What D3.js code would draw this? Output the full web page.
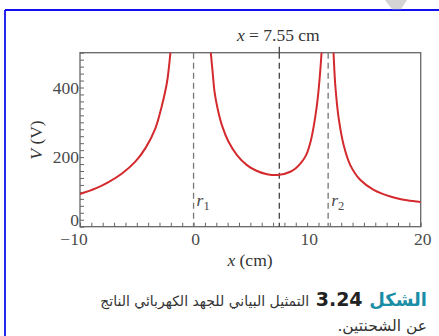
<!DOCTYPE html>
<html>
<head>
<meta charset="utf-8">
<script src="https://cdn.jsdelivr.net/npm/d3@7/dist/d3.min.js"></script>
<style>
  html, body { margin: 0; padding: 0; background: #fff; }
  svg { display: block; }
</style>
</head>
<body>
<svg id="chart" width="439" height="336"></svg>
<script>
// Potential along the x axis for two point charges (V in volts, x in cm)
const leftX  = [-10, -8.62, -7.45, -6.30, -5.13, -4.25, -3.37, -2.78, -2.34, -2.05, -1.95];
const leftV  = [94, 110, 129, 153, 187, 225, 282, 349, 415, 496, 530];

const midX = [1.45, 1.53, 1.68, 1.85, 2.12, 2.5, 3.08, 3.82, 4.7, 5.58, 6.47, 7.55, 8.52, 9.0, 9.4, 9.9, 10.33, 10.7, 10.95, 11.15, 11.3];
const midV = [530, 496, 444, 387, 339, 291, 244, 206, 177, 160, 151, 149, 158, 168, 181, 205, 248, 312, 374, 446, 515];

const rightX = [12.28, 12.33, 12.48, 12.78, 13.22, 13.8, 14.69, 15.86, 17.33, 18.8, 20];
const rightV = [530, 496, 406, 311, 234, 177, 134, 106, 87, 76, 71];

const xTickLabels = [-10, 0, 10, 20];
const yTickLabels = [0, 200, 400];
const chargePositions = [0, 11.85];
const chargeNames = ["1", "2"];
const minimumX = 7.55;

const svg = d3.select("#chart");

// page frame
svg.append("line").attr("x1", 5).attr("y1", 10).attr("x2", 439).attr("y2", 10)
  .attr("stroke", "#1010f0").attr("stroke-width", 1.8);
svg.append("line").attr("x1", 5).attr("y1", 10).attr("x2", 5).attr("y2", 336)
  .attr("stroke", "#1010f0").attr("stroke-width", 1.8);
svg.append("path").attr("d", "M385,0 L407,0 L401,9.2 L392,9.2 Z").attr("fill", "#d4d4d4");

const x = d3.scaleLinear().domain([-10, 20]).range([80, 420.7]);
const y = d3.scaleLinear().domain([0, 500]).range([226.7, 52.7]);

const axisColor = "#666";
const labelColor = "#4a4a4a";
const serif = "'Liberation Serif', 'DejaVu Serif', serif";
const fs = 17.5;

svg.append("defs").append("clipPath").attr("id", "plotClip")
  .append("rect").attr("x", x(-10)).attr("y", y(500))
  .attr("width", x(20) - x(-10)).attr("height", y(0) - y(500));

// x-axis minor ticks (inward)
const xAxis = d3.axisBottom(x).tickValues(d3.range(-10, 21, 1)).tickSize(-4).tickFormat("");
const gx = svg.append("g").attr("transform", `translate(0,${y(0)})`).call(xAxis);
gx.select(".domain").remove();
gx.selectAll("line").attr("stroke", axisColor).attr("stroke-width", 1);

// y-axis minor ticks (inward)
const yAxis = d3.axisLeft(y).tickValues(d3.range(0, 501, 20)).tickSize(-4).tickFormat("");
const gy = svg.append("g").attr("transform", `translate(${x(-10)},0)`).call(yAxis);
gy.select(".domain").remove();
gy.selectAll("line").attr("stroke", axisColor).attr("stroke-width", 1);

// plot frame
svg.append("rect").attr("x", x(-10)).attr("y", y(500))
  .attr("width", x(20) - x(-10)).attr("height", y(0) - y(500))
  .attr("fill", "none").attr("stroke", axisColor).attr("stroke-width", 1.3);

// tick labels
svg.append("g").selectAll("text").data(xTickLabels).join("text")
  .attr("x", d => x(d) + (d < 0 ? -6 : 2))
  .attr("y", 245)
  .attr("text-anchor", "middle")
  .attr("font-family", serif).attr("font-size", fs).attr("fill", labelColor)
  .text(d => d < 0 ? "\u2212" + Math.abs(d) : d);

svg.append("g").selectAll("text").data(yTickLabels).join("text")
  .attr("x", x(-10) - 1)
  .attr("y", d => y(d) + (d === 0 ? -1 : 6))
  .attr("text-anchor", "end")
  .attr("font-family", serif).attr("font-size", fs).attr("fill", labelColor)
  .text(d => d);

// dashed guide lines at the charges
svg.append("g").selectAll("line").data(chargePositions).join("line")
  .attr("x1", d => x(d)).attr("x2", d => x(d))
  .attr("y1", y(500)).attr("y2", y(0))
  .attr("stroke", "#777").attr("stroke-width", 1.3).attr("stroke-dasharray", "6,4");

svg.append("g").selectAll("text").data(chargePositions).join("text")
  .attr("x", d => x(d) + 3)
  .attr("y", 206)
  .attr("font-family", serif).attr("font-size", fs).attr("fill", labelColor)
  .each(function(d, i) {
    const t = d3.select(this);
    t.append("tspan").attr("font-style", "italic").text("r");
    t.append("tspan").attr("font-size", 12.5).attr("dy", 4).text(chargeNames[i]);
  });

// dashed line at the potential minimum
svg.append("line").attr("x1", x(minimumX)).attr("x2", x(minimumX))
  .attr("y1", y(500)).attr("y2", y(0))
  .attr("stroke", "#444").attr("stroke-width", 1.3).attr("stroke-dasharray", "6,4");
svg.append("line").attr("x1", x(minimumX)).attr("x2", x(minimumX))
  .attr("y1", y(500) - 6).attr("y2", y(500))
  .attr("stroke", "#444").attr("stroke-width", 1.3);

const title = svg.append("text").attr("x", x(minimumX) - 1).attr("y", 41)
  .attr("text-anchor", "middle")
  .attr("font-family", serif).attr("font-size", fs).attr("fill", "#333");
title.append("tspan").attr("font-style", "italic").text("x");
title.append("tspan").text(" = " + minimumX + " cm");

// potential curves
const line = d3.line().x(d => x(d[0])).y(d => y(d[1])).curve(d3.curveCatmullRom.alpha(0.5));
const branches = [
  d3.zip(leftX, leftV),
  d3.zip(midX, midV),
  d3.zip(rightX, rightV)
];
svg.append("g").attr("clip-path", "url(#plotClip)")
  .selectAll("path").data(branches).join("path")
  .attr("d", line)
  .attr("fill", "none").attr("stroke", "#d42a2e").attr("stroke-width", 2);

// axis titles
const xt = svg.append("text").attr("x", 250).attr("y", 266).attr("text-anchor", "middle")
  .attr("font-family", serif).attr("font-size", fs).attr("fill", "#333");
xt.append("tspan").attr("font-style", "italic").text("x");
xt.append("tspan").text(" (cm)");

const yt = svg.append("text").attr("transform", "translate(42,140) rotate(-90)")
  .attr("text-anchor", "middle")
  .attr("font-family", serif).attr("font-size", fs).attr("fill", "#333");
yt.append("tspan").attr("font-style", "italic").text("V");
yt.append("tspan").text(" (V)");

// caption
const arabic = "'DejaVu Sans', 'Noto Sans', sans-serif";
const cap = svg.append("text").attr("x", 427).attr("y", 306)
  .attr("direction", "rtl").attr("text-anchor", "start")
  .attr("font-family", arabic);
cap.append("tspan").attr("font-weight", "bold").attr("font-size", 18).attr("fill", "#1b8ea6").text("الشكل");
cap.append("tspan").attr("font-weight", "bold").attr("font-size", 19).attr("fill", "#222").text(" 3.24 ");
cap.append("tspan").attr("font-size", 14).attr("fill", "#333").text("التمثيل البياني للجهد الكهربائي الناتج");

svg.append("text").attr("x", 427).attr("y", 331)
  .attr("direction", "rtl").attr("text-anchor", "start")
  .attr("font-family", arabic).attr("font-size", 15.5).attr("fill", "#333")
  .text("عن الشحنتين.");
</script>
</body>
</html>
